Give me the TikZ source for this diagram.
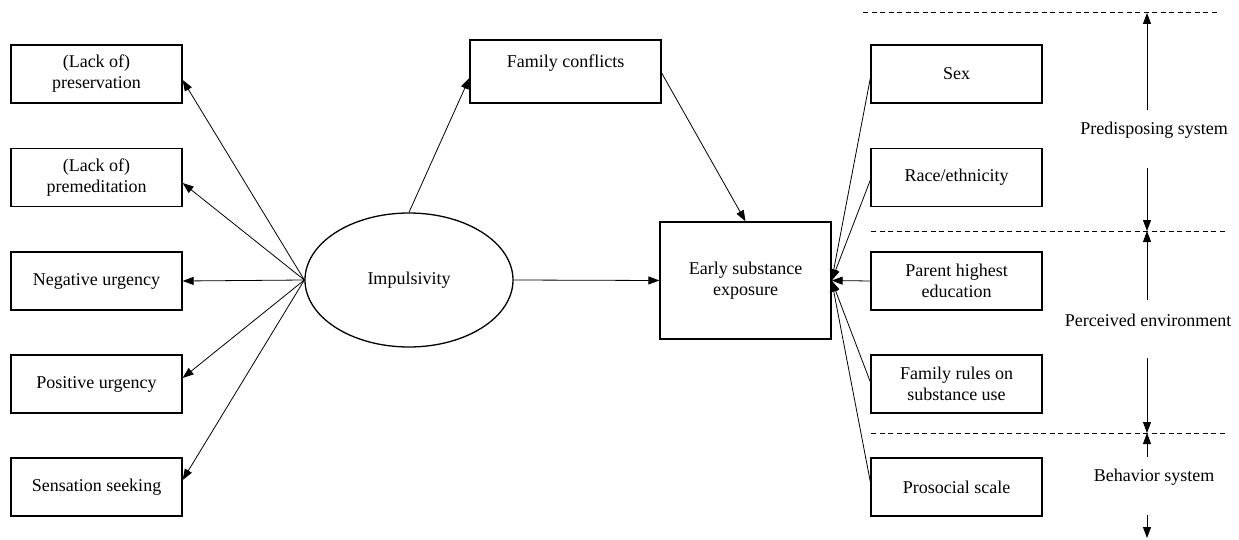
\documentclass[tikz,border=0pt]{standalone}
\usepackage{fontspec}
\setmainfont{LiberationSerif}[Extension=.ttf,UprightFont=*-Regular,BoldFont=*-Bold,ItalicFont=*-Italic]
\usetikzlibrary{shapes.geometric,arrows.meta,calc}
\begin{document}
\begin{tikzpicture}[x=1pt,y=-1pt,
  font=\rmfamily\fontsize{18}{21}\selectfont,
  box/.style={draw,line width=1.3pt,rectangle,minimum width=171pt,minimum height=58pt,inner sep=0pt,align=center},
  conn/.style={line width=0.8pt,-{Triangle[length=11pt,width=8pt]}},
  sepline/.style={line width=1pt,dash pattern=on 5pt off 3.5pt},
  lbl/.style={inner sep=0pt,align=center}]
\useasboundingbox (0,0) rectangle (1239,540);
% left boxes
\node[box] (b1) at (96.5,74) {(Lack of)\\preservation};
\node[box] (b2) at (96.5,177.5) {(Lack of)\\premeditation};
\node[box] (b3) at (96.5,281) {Negative urgency};
\node[box] (b4) at (96.5,384) {Positive urgency};
\node[box] (b5) at (96.5,487) {Sensation seeking};
% ellipse
\node[draw,line width=1.3pt,ellipse,minimum width=208pt,minimum height=134pt,inner sep=0pt] (imp) at (409,280) {Impulsivity};
% family conflicts
\node[box,minimum width=191pt,minimum height=63pt] (fc) at (565.5,71.5) {Family conflicts\\~};
% early
\node[box,minimum height=117pt] (es) at (745.5,280.5) {Early substance\\exposure};
% right boxes
\node[box] (r1) at (956.5,74) {Sex};
\node[box] (r2) at (956.5,177.5) {Race/ethnicity};
\node[box] (r3) at (956.5,281) {Parent highest\\education};
\node[box] (r4) at (956.5,384) {Family rules on\\substance use};
\node[box] (r5) at (956.5,487) {Prosocial scale};
% left arrows
\draw[conn] (imp.west) -- ($(b1.east)+(0,6)$);
\draw[conn] (imp.west) -- ($(b2.east)+(0,5.5)$);
\draw[conn] (imp.west) -- (b3.east);
\draw[conn] (imp.west) -- ($(b4.east)+(0,-6)$);
\draw[conn] (imp.west) -- ($(b5.east)+(0,-7)$);
% middle arrows
\draw[conn] (imp.north) -- ($(fc.west)+(0,6.5)$);
\draw[conn] ($(fc.east)+(0,1.5)$) -- (es.north);
\draw[conn] (imp.east) -- (es.west);
% right arrows
\draw[conn] ($(r1.west)+(0,4)$) -- (es.east);
\draw[conn] ($(r2.west)+(0,2.5)$) -- (es.east);
\draw[conn] (r3.west) -- (es.east);
\draw[conn] ($(r4.west)+(0,-2)$) -- (es.east);
\draw[conn] ($(r5.west)+(0,-5)$) -- (es.east);
% dashed separators
\coordinate (d1a) at (863,13); \coordinate (d1b) at (1217,13);
\coordinate (d2a) at (871,231); \coordinate (d2b) at (1225,231);
\coordinate (d3a) at (871,433); \coordinate (d3b) at (1225,433);
\draw[sepline] (d1a) -- (d1b);
\draw[sepline] (d2a) -- (d2b);
\draw[sepline] (d3a) -- (d3b);
% system labels
\node[lbl] (ps) at (1154,130) {Predisposing system};
\node[lbl] (pe) at (1148,320) {Perceived environment};
\node[lbl] (bs) at (1154,477) {Behavior system};
% vertical arrows
\coordinate (t1) at (1147,13);
\coordinate (s1) at (1147,110);
\coordinate (s2) at (1147,168);
\coordinate (t2) at (1147,231);
\coordinate (s3) at (1147,300);
\coordinate (s4) at (1147,358);
\coordinate (t3) at (1147,433);
\coordinate (s5) at (1147,457);
\coordinate (s6) at (1147,515);
\coordinate (t4) at (1147,538);
\draw[conn] (s1) -- (t1);
\draw[conn] (s2) -- (t2);
\draw[conn] (s3) -- (t2);
\draw[conn] (s4) -- (t3);
\draw[conn] (s5) -- (t3);
\draw[conn] (s6) -- (t4);
\end{tikzpicture}
\end{document}
